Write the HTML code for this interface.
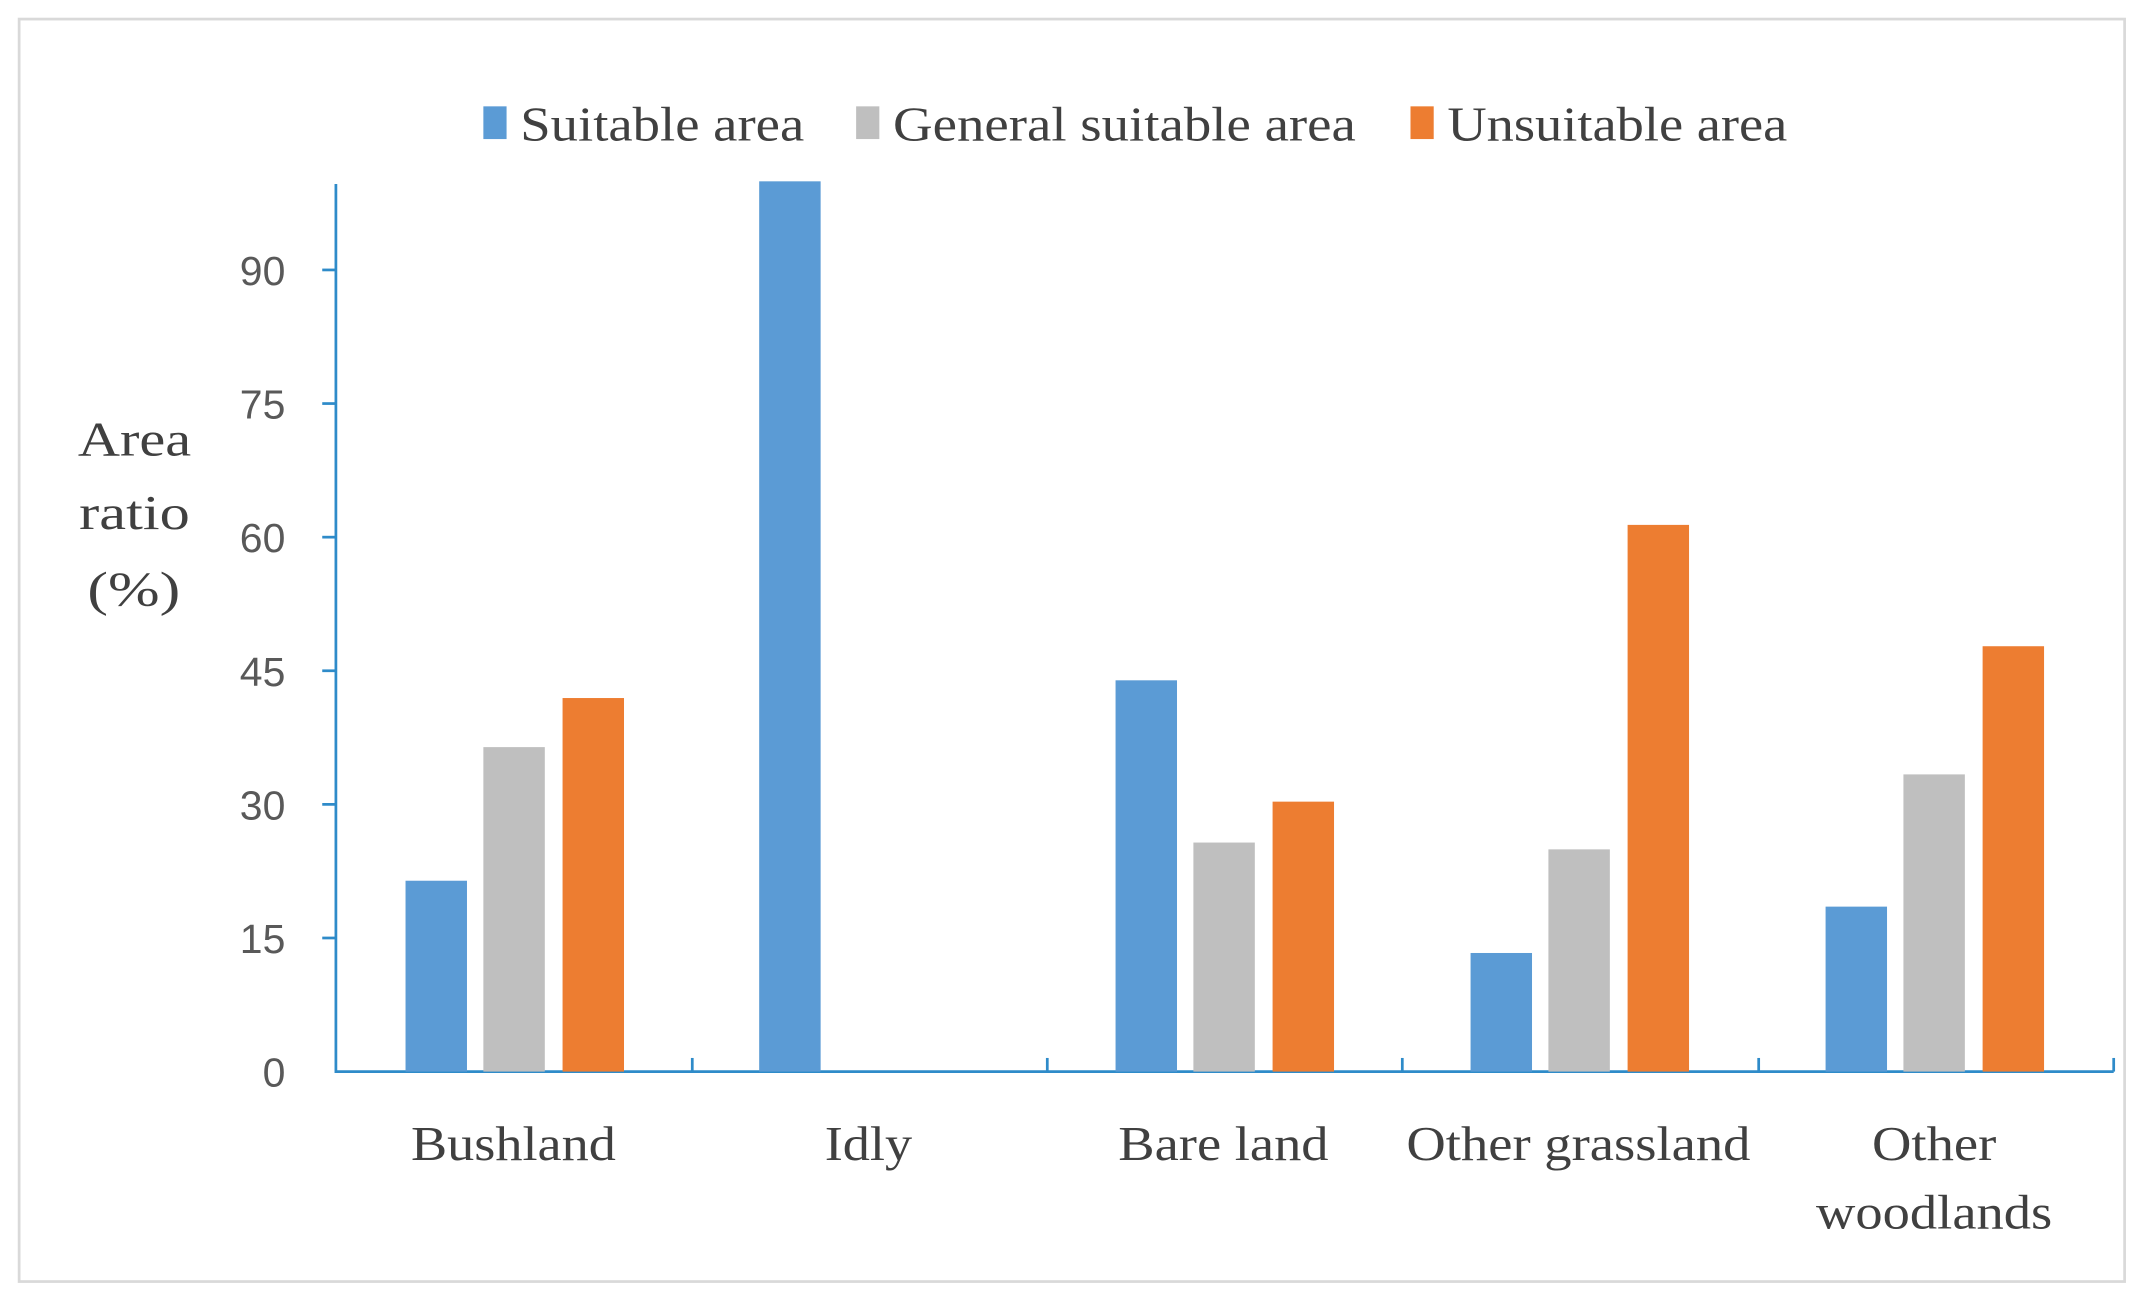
<!DOCTYPE html>
<html><head><meta charset="utf-8"><style>html,body{margin:0;padding:0;background:#fff}svg{display:block}</style></head>
<body>
<svg width="2141" height="1302" viewBox="0 0 1568 955" preserveAspectRatio="none" xmlns="http://www.w3.org/2000/svg">
<rect x="0" y="0" width="1568" height="955" fill="#fff"/>
<rect x="14" y="14" width="1542" height="926" fill="none" stroke="#d9d9d9" stroke-width="2"/>
<g font-family="Liberation Serif, serif" font-size="36" fill="#404040" lengthAdjust="spacingAndGlyphs">
<rect x="354" y="78" width="17" height="24" fill="#5b9bd5"/><text x="381" y="103" textLength="208" lengthAdjust="spacingAndGlyphs">Suitable area</text>
<rect x="627" y="78" width="17" height="24" fill="#bfbfbf"/><text x="654" y="103" textLength="339" lengthAdjust="spacingAndGlyphs">General suitable area</text>
<rect x="1033" y="78" width="17" height="24" fill="#ed7d31"/><text x="1060" y="103" textLength="249" lengthAdjust="spacingAndGlyphs">Unsuitable area</text>
</g>
<g font-family="Liberation Sans, sans-serif" font-size="30" fill="#595959" text-anchor="end">
<text x="209" y="797">0</text><text x="209" y="699">15</text><text x="209" y="601">30</text><text x="209" y="503">45</text><text x="209" y="405">60</text><text x="209" y="307">75</text><text x="209" y="209">90</text>
</g>
<g stroke="#2e8bc9" stroke-width="2">
<line x1="246" y1="135" x2="246" y2="787"/>
<line x1="246" y1="786" x2="1548" y2="786"/>
<line x1="236" y1="198" x2="246" y2="198"/><line x1="236" y1="296" x2="246" y2="296"/><line x1="236" y1="394" x2="246" y2="394"/><line x1="236" y1="492" x2="246" y2="492"/><line x1="236" y1="590" x2="246" y2="590"/><line x1="236" y1="688" x2="246" y2="688"/>
<line x1="507" y1="776" x2="507" y2="786"/><line x1="767" y1="776" x2="767" y2="786"/><line x1="1027" y1="776" x2="1027" y2="786"/><line x1="1288" y1="776" x2="1288" y2="786"/><line x1="1548" y1="776" x2="1548" y2="786"/>
</g>
<g>
<rect x="297" y="646" width="45" height="140" fill="#5b9bd5"/>
<rect x="354" y="548" width="45" height="238" fill="#bfbfbf"/>
<rect x="412" y="512" width="45" height="274" fill="#ed7d31"/>
<rect x="556" y="133" width="45" height="653" fill="#5b9bd5"/>
<rect x="817" y="499" width="45" height="287" fill="#5b9bd5"/>
<rect x="874" y="618" width="45" height="168" fill="#bfbfbf"/>
<rect x="932" y="588" width="45" height="198" fill="#ed7d31"/>
<rect x="1077" y="699" width="45" height="87" fill="#5b9bd5"/>
<rect x="1134" y="623" width="45" height="163" fill="#bfbfbf"/>
<rect x="1192" y="385" width="45" height="401" fill="#ed7d31"/>
<rect x="1337" y="665" width="45" height="121" fill="#5b9bd5"/>
<rect x="1394" y="568" width="45" height="218" fill="#bfbfbf"/>
<rect x="1452" y="474" width="45" height="312" fill="#ed7d31"/>
</g>
<g font-family="Liberation Serif, serif" font-size="36" fill="#404040">
<text x="301" y="851" textLength="150" lengthAdjust="spacingAndGlyphs">Bushland</text>
<text x="604" y="851" textLength="64" lengthAdjust="spacingAndGlyphs">Idly</text>
<text x="819" y="851" textLength="154" lengthAdjust="spacingAndGlyphs">Bare land</text>
<text x="1030" y="851" textLength="252" lengthAdjust="spacingAndGlyphs">Other grassland</text>
<text x="1371" y="851" textLength="91" lengthAdjust="spacingAndGlyphs">Other</text>
<text x="1330" y="901" textLength="173" lengthAdjust="spacingAndGlyphs">woodlands</text>
<text x="57" y="334" textLength="83" lengthAdjust="spacingAndGlyphs">Area</text>
<text x="58" y="388" textLength="81" lengthAdjust="spacingAndGlyphs">ratio</text>
<text x="64" y="444" textLength="68" lengthAdjust="spacingAndGlyphs">(%)</text>
</g>
</svg>
</body></html>
